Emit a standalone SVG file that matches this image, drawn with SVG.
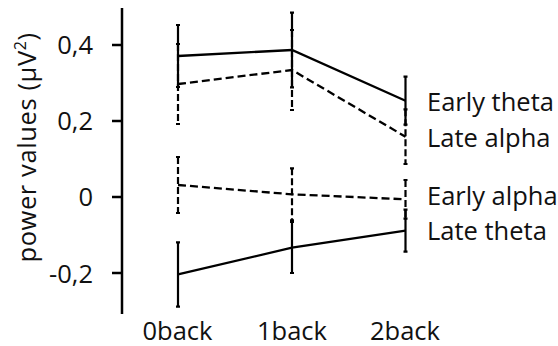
<svg xmlns="http://www.w3.org/2000/svg" width="558" height="346" viewBox="0 0 558 346">
<style>
text{font-family:"Open Sans","Noto Sans","DejaVu Sans",sans-serif;font-size:25.5px;fill:#111}
.ax{stroke:#000;stroke-width:2.5;fill:none}
.s{stroke:#000;stroke-width:2.3;fill:none}
.d{stroke:#000;stroke-width:2.3;fill:none;stroke-dasharray:8 4}
.eb{stroke:#000;stroke-width:2.2;fill:none}
.ebd{stroke:#000;stroke-width:2.2;fill:none;stroke-dasharray:7 3}
.tl{text-anchor:end}
.xl{text-anchor:middle}
</style>
<rect width="558" height="346" fill="#fff"/>
<g id="axis">
<line class="ax" x1="122" y1="8" x2="122" y2="314"/>
<path class="ax" d="M112 45H122M112 121H122M112 197H122M112 273H122"/>
<text class="tl" x="93" y="54">0,4</text>
<text class="tl" x="93" y="130">0,2</text>
<text class="tl" x="93" y="206">0</text>
<text class="tl" x="93" y="282.5">-0,2</text>
<text class="xl" x="177.5" y="340">0back</text>
<text class="xl" x="292" y="340">1back</text>
<text class="xl" x="405" y="340">2back</text>
<text transform="translate(36,147.5) rotate(-90)" text-anchor="middle" style="letter-spacing:0.6px">power values (µV<tspan font-size="16" dy="-10">2</tspan><tspan dy="10">)</tspan></text>
</g>
<g id="late-alpha">
<path class="ebd" d="M178 44V124M292 30V110M405.5 109.3V164"/>
<path class="eb" d="M176 44H180M176 124H180M290 30H294M290 110H294M403.5 109.3H407.5M403.5 164H407.5"/>
<polyline class="d" points="178,84 292,70 405.5,136.7"/>
</g>
<g id="early-alpha">
<path class="ebd" d="M178 157V213M292 168.3V220.3M405.5 180V218.6"/>
<path class="eb" d="M176 157H180M176 213H180M290 168.3H294M290 220.3H294M403.5 180H407.5M403.5 218.6H407.5"/>
<polyline class="d" points="178,185 292,194.3 405.5,199.3"/>
</g>
<g id="early-theta">
<path class="eb" d="M178 25V87M292 12.7V87.3M405.5 76.7V124.7"/>
<path class="eb" d="M176 25H180M176 87H180M290 12.7H294M290 87.3H294M403.5 76.7H407.5M403.5 124.7H407.5"/>
<polyline class="s" points="178,56 292,50 405.5,100.7"/>
</g>
<g id="late-theta">
<path class="eb" d="M178 242.3V306.7M292 222V273M405.5 209.7V251.7"/>
<path class="eb" d="M176 242.3H180M176 306.7H180M290 222H294M290 273H294M403.5 209.7H407.5M403.5 251.7H407.5"/>
<polyline class="s" points="178,274.3 292,247.7 405.5,230.7"/>
</g>
<g id="legend">
<text x="427" y="111">Early theta</text>
<text x="427" y="147">Late alpha</text>
<text x="427" y="205">Early alpha</text>
<text x="427" y="240">Late theta</text>
</g>
</svg>
